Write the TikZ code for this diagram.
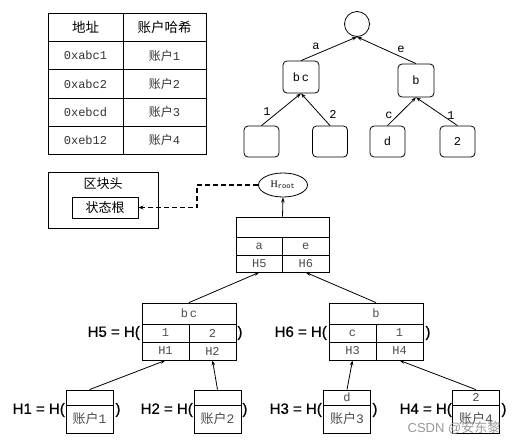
\documentclass[tikz,border=0pt]{standalone}
\usepackage{fontspec}
\setmainfont{Liberation Serif}
\newfontfamily\cjk{Noto Sans CJK SC}
\newfontfamily\lat{Liberation Mono}
\newfontfamily\hsans{Liberation Sans}[FakeBold=0.7]
\newfontfamily\wsans{Liberation Sans}
\usetikzlibrary{arrows.meta,shapes.geometric}
\begin{document}
\begin{tikzpicture}[x=1pt,y=-1pt,
  cell/.style={draw, line width=0.8pt, inner sep=0pt, font=\lat\fontsize{12}{12}\selectfont, text=black!70},
  tcell/.style={draw, line width=0.9pt, inner sep=0pt, minimum height=28.2pt, font=\lat\fontsize{12}{12}\selectfont, text=black!80},
  tnode/.style={draw, rounded corners=4pt, line width=0.8pt, minimum width=35pt, minimum height=31pt, inner sep=0pt, font=\lat\fontsize{12}{12}\selectfont},
  elab/.style={inner sep=0pt, font=\lat\fontsize{12}{12}\selectfont},
  hlab/.style={inner sep=0pt, font=\hsans\fontsize{15}{15}\selectfont},
  arr/.style={line width=0.8pt, -{Stealth[length=5pt,width=3.5pt]}},
  cjkt/.style={font=\cjk\fontsize{13}{13}\selectfont}
]
\useasboundingbox (0,0) rectangle (520,445);
\fill[white] (0,0) rectangle (520,445);

% ---- address table ----
\node[tcell, minimum width=75pt, font=\cjk\fontsize{13.5}{13.5}\selectfont, text=black] (th1) at (85.5,27.5) {地址};
\node[tcell, minimum width=83pt, font=\cjk\fontsize{13.5}{13.5}\selectfont, text=black] (th2) at (164.5,27.5) {账户哈希};
\node[tcell, minimum width=75pt] (a1) at (85.5,55.7) {0xabc1};
\node[tcell, minimum width=83pt] (b1) at (164.5,55.7) {{\cjk 账户}1};
\node[tcell, minimum width=75pt] (a2) at (85.5,83.9) {0xabc2};
\node[tcell, minimum width=83pt] (b2) at (164.5,83.9) {{\cjk 账户}2};
\node[tcell, minimum width=75pt] (a3) at (85.5,112.1) {0xebcd};
\node[tcell, minimum width=83pt] (b3) at (164.5,112.1) {{\cjk 账户}3};
\node[tcell, minimum width=75pt] (a4) at (85.5,140.3) {0xeb12};
\node[tcell, minimum width=83pt] (b4) at (164.5,140.3) {{\cjk 账户}4};

% ---- top tree ----
\node[draw, circle, line width=0.8pt, minimum size=25pt, inner sep=0pt] (circ) at (357,24) {};
\node[tnode, minimum width=36pt, minimum height=32pt] (bc) at (301,77) {b\,c};
\node[tnode, minimum width=36pt, minimum height=33pt] (b) at (416,80.5) {b};
\node[tnode] (l1) at (261.5,141.5) {};
\node[tnode] (l2) at (330,141.5) {};
\node[tnode] (l3) at (387.5,141.5) {d};
\node[tnode] (l4) at (457.5,141.5) {2};
\draw[arr] (bc.north) -- (circ.south);
\draw[arr] (b.north) -- (circ.south);
\draw[arr] (l1.north) -- (bc.south);
\draw[arr] (l2.north) -- (bc.south);
\draw[arr] (l3.north) -- (b.south);
\draw[arr] (l4.north) -- (b.south);
\node[elab] (la) at (316,46) {a};
\node[elab] (le) at (401,49) {e};
\node[elab] (l1l) at (267,112) {1};
\node[elab] (l2l) at (333,114) {2};
\node[elab] (lcl) at (389,115) {c};
\node[elab] (l4l) at (451,116) {1};

% ---- block header ----
\node[draw, line width=0.9pt, minimum width=110pt, minimum height=56pt, inner sep=0pt] (hdr) at (103,200) {};
\node[cjkt, inner sep=0pt] (hdrt) at (103,184) {区块头};
\node[draw, line width=0.9pt, minimum width=66pt, minimum height=21pt, inner sep=0pt, cjkt] (sroot) at (105,207.5) {状态根};

% ---- H root ----
\node[draw, ellipse, line width=0.8pt, minimum width=49pt, minimum height=24pt, inner sep=0pt] (hroot) at (283,185) {H\textsubscript{\lat\fontsize{7}{7}\selectfont root}};
\coordinate (bend) at (197,185);
\draw[line width=1.3pt, dash pattern=on 5pt off 3pt, -{Stealth[length=5pt,width=4pt]}] (hroot.west) -- (bend) |- (sroot.east);

% ---- root table ----
\node[cell, minimum width=93pt, minimum height=20pt] (r0) at (282.5,227) {};
\node[cell, minimum width=46.5pt, minimum height=18pt] (ra) at (259.25,246) {a};
\node[cell, minimum width=46.5pt, minimum height=18pt] (re) at (305.75,246) {e};
\node[cell, minimum width=46.5pt, minimum height=17pt] (rh5) at (259.25,263.5) {H5};
\node[cell, minimum width=46.5pt, minimum height=17pt] (rh6) at (305.75,263.5) {H6};
\draw[arr] (r0.north) -- (hroot.south);

% ---- H5 table ----
\node[cell, minimum width=94pt, minimum height=21pt] (t5) at (189,313.5) {b\,c};
\node[cell, minimum width=47pt, minimum height=18pt] (t5a) at (165.5,333) {1};
\node[cell, minimum width=47pt, minimum height=18pt] (t5b) at (212.5,333) {2};
\node[cell, minimum width=47pt, minimum height=18pt] (t5h1) at (165.5,351) {H1};
\node[cell, minimum width=47pt, minimum height=18pt] (t5h2) at (212.5,351) {H2};
\node[hlab, anchor=east] (h5l) at (140,333) {H5 = H(};
\node[hlab] (h5r) at (240,333) {)};

% ---- H6 table ----
\node[cell, minimum width=94pt, minimum height=21pt] (t6) at (376,313.5) {b};
\node[cell, minimum width=47pt, minimum height=18pt] (t6a) at (352.5,333) {c};
\node[cell, minimum width=47pt, minimum height=18pt] (t6b) at (399.5,333) {1};
\node[cell, minimum width=47pt, minimum height=18pt] (t6h3) at (352.5,351) {H3};
\node[cell, minimum width=47pt, minimum height=18pt] (t6h4) at (399.5,351) {H4};
\node[hlab, anchor=east] (h6l) at (327,333) {H6 = H(};
\node[hlab] (h6r) at (428,333) {)};

\draw[arr] (t5.north) -- (rh5.south);
\draw[arr] (t6.north) -- (rh6.south);

% ---- leaf boxes ----
\node[cell, minimum width=47pt, minimum height=15pt] (k1) at (89.5,397.5) {};
\node[cell, minimum width=47pt, minimum height=28pt, cjkt, text=black!70] (v1) at (89.5,419) {账户{\lat 1}};
\node[hlab, anchor=east] (h1l) at (65,410) {H1 = H(};
\node[hlab] (h1r) at (118,410) {)};

\node[cell, minimum width=47pt, minimum height=15pt] (k2) at (217.5,397.5) {};
\node[cell, minimum width=47pt, minimum height=28pt, cjkt, text=black!70] (v2) at (217.5,419) {账户{\lat 2}};
\node[hlab, anchor=east] (h2l) at (193,410) {H2 = H(};
\node[hlab] (h2r) at (245,410) {)};

\node[cell, minimum width=47pt, minimum height=15pt] (k3) at (347,397.5) {d};
\node[cell, minimum width=47pt, minimum height=28pt, cjkt, text=black!70] (v3) at (347,419) {账户{\lat 3}};
\node[hlab, anchor=east] (h3l) at (322,410) {H3 = H(};
\node[hlab] (h3r) at (375,410) {)};

\node[cell, minimum width=47pt, minimum height=15pt] (k4) at (476,397.5) {2};
\node[cell, minimum width=47pt, minimum height=28pt, cjkt, text=black!70] (v4) at (476,419) {账户{\lat 4}};
\node[hlab, anchor=east] (h4l) at (452,410) {H4 = H(};
\node[hlab] (h4r) at (504,410) {)};

\draw[arr] (k1.north) -- (t5h1.south);
\draw[arr] (k2.north) -- (t5h2.south);
\draw[arr] (k3.north) -- (t6h3.south);
\draw[arr] (k4.north) -- (t6h4.south);

% ---- watermark ----
\node[inner sep=0pt, text=black!40, font=\wsans\fontsize{13}{13}\selectfont] (wm) at (454,428) {CSDN @{\cjk 安东黎}};
\end{tikzpicture}
\end{document}
